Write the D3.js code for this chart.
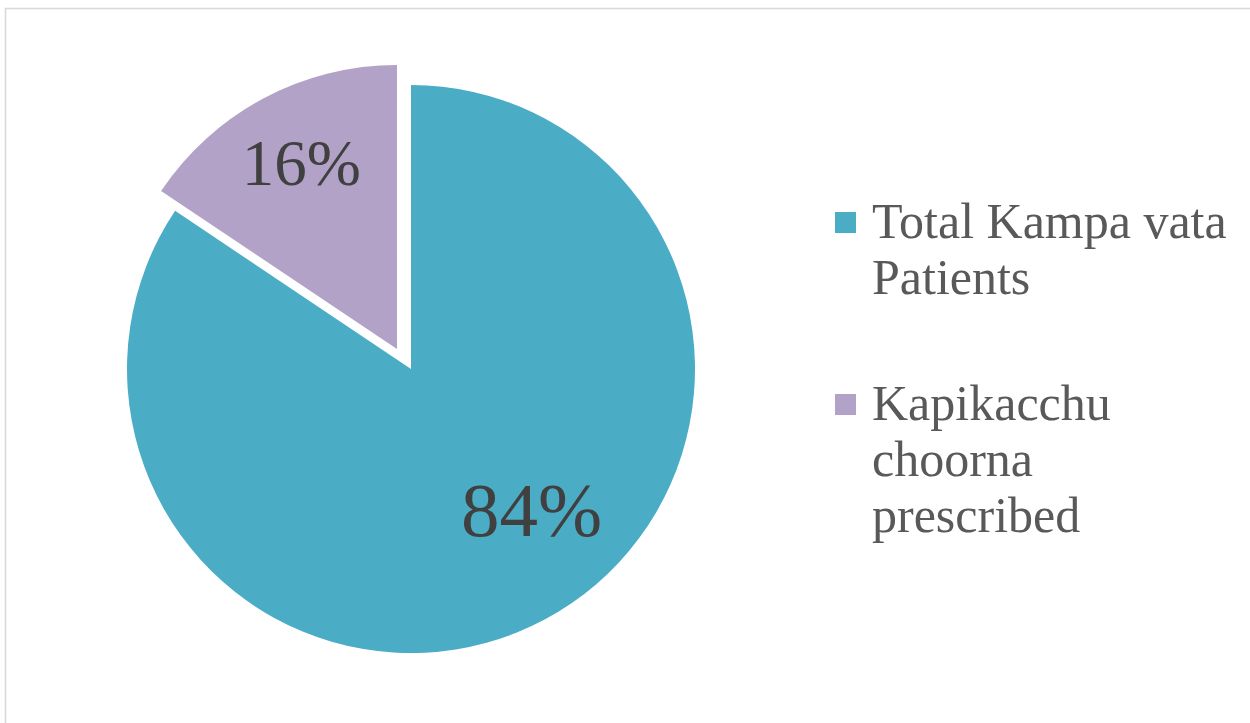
<!DOCTYPE html>
<html>
<head>
<meta charset="utf-8">
<script src="https://cdn.jsdelivr.net/npm/d3@7"></script>
<style>
    body { margin: 0; background: #fff; }
    svg { display: block; }
</style>
</head>
<body>
<div id="chart"></div>
<script>
// adatok
const categories = ['Total Kampa vata Patients', 'Kapikacchu choorna prescribed'];
const values = [84.4, 15.6];
const legendLines = [['Total Kampa vata', 'Patients'], ['Kapikacchu', 'choorna', 'prescribed']];

const colors = ['#4BACC6', '#B3A2C7'];

const width = 1250;
const height = 723;
const cx = 411;
const cy = 369;
const radius = 284;

// kirobbantás és címke beállítások szeletenként
const explode = [{ d: 0, shift: 0 }, { d: 24.4, shift: -7 }];
const labelStyle = [
    { r: 0.65, shift: -12.7, size: 77 },
    { r: 0.74, shift: 1, size: 65 }
];

let svg = d3.select('#chart').append('svg')
    .attr('width', width)
    .attr('height', height);

// keret
svg.append('rect')
    .attr('x', 5.5)
    .attr('y', 8.5)
    .attr('width', width + 20)
    .attr('height', height + 20)
    .attr('fill', 'none')
    .attr('stroke', '#D9D9D9')
    .attr('stroke-width', 1.6);

const data = categories.map(function (c, i) {
    return { key: c, value: values[i] };
});

const total = d3.sum(values);

let pie = d3.pie().sort(null).value(function (d) {
    return d.value;
});
let arc = d3.arc().innerRadius(0).outerRadius(radius);

let arcs = pie(data);

let g = svg.append('g')
    .attr('transform', 'translate(' + cx + ',' + cy + ')');

let slices = g.selectAll('.slice').data(arcs)
    .enter().append('g').classed('slice', true)
    .attr('transform', function (d, i) {
        let a = (d.startAngle + d.endAngle) / 2 + explode[i].shift * Math.PI / 180;
        return 'translate(' + (Math.sin(a) * explode[i].d) + ',' + (-Math.cos(a) * explode[i].d) + ')';
    });

slices.append('path')
    .attr('d', arc)
    .attr('fill', function (d, i) {
        return colors[i];
    });

slices.append('text')
    .attr('x', function (d, i) {
        let a = (d.startAngle + d.endAngle) / 2 + labelStyle[i].shift * Math.PI / 180;
        return Math.sin(a) * radius * labelStyle[i].r;
    })
    .attr('y', function (d, i) {
        let a = (d.startAngle + d.endAngle) / 2 + labelStyle[i].shift * Math.PI / 180;
        return -Math.cos(a) * radius * labelStyle[i].r;
    })
    .attr('dy', '0.35em')
    .attr('text-anchor', 'middle')
    .style('font-family', '"Liberation Serif", serif')
    .style('font-size', function (d, i) {
        return labelStyle[i].size + 'px';
    })
    .attr('fill', '#404040')
    .text(function (d) {
        return Math.round(d.value / total * 100) + '%';
    });

// jelmagyarázat
const legendTop = [238, 420];
const lineHeight = 56;

let legend = svg.selectAll('.legend').data(data)
    .enter().append('g').classed('legend', true)
    .attr('transform', function (d, i) {
        return 'translate(835,' + legendTop[i] + ')';
    });

legend.append('rect')
    .attr('x', 0)
    .attr('y', -26)
    .attr('width', 21)
    .attr('height', 21)
    .attr('fill', function (d, i) {
        return colors[i];
    });

legend.append('text')
    .attr('x', 37)
    .style('font-family', '"Liberation Serif", serif')
    .style('font-size', '50px')
    .attr('fill', '#595959')
    .selectAll('tspan')
    .data(function (d, i) {
        return legendLines[i];
    })
    .enter().append('tspan')
    .attr('x', 37)
    .attr('y', function (d, j) {
        return j * lineHeight;
    })
    .text(function (d) {
        return d;
    });
</script>
</body>
</html>
